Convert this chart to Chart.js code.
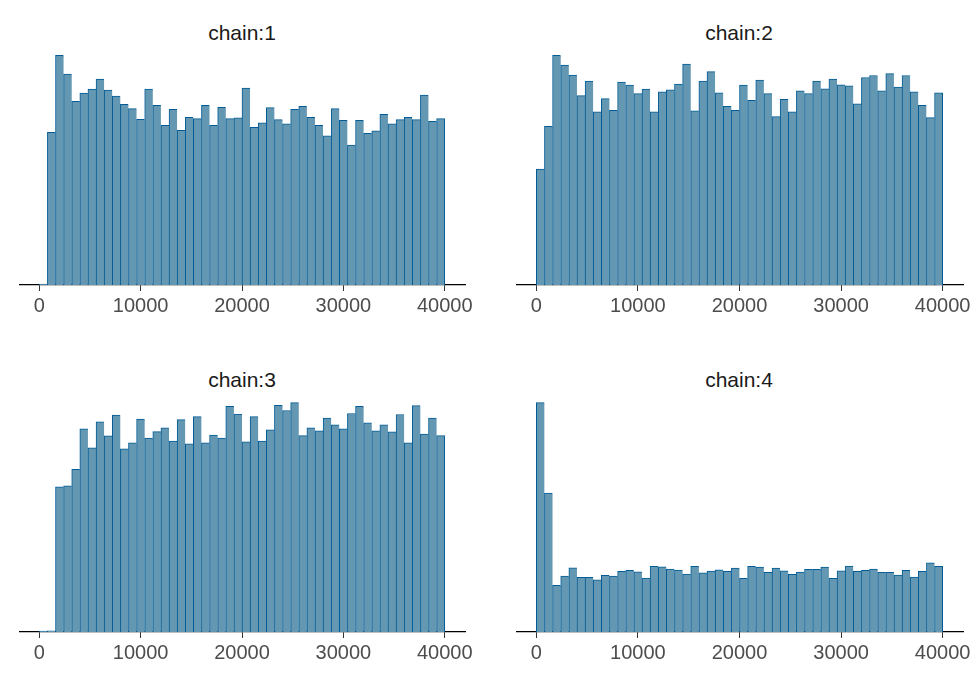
<!DOCTYPE html>
<html>
<head>
<meta charset="utf-8">
<script src="https://cdn.jsdelivr.net/npm/chart.js@4"></script>
<style>
body { margin: 0; width: 975px; height: 675px; background: #fff; position: relative; overflow: hidden; }
canvas { position: absolute; }
.title { position: absolute; width: 300px; text-align: center; font-family: 'Liberation Sans', Arial, sans-serif; font-size: 21px; line-height: 21px; color: #1a1a1a; }
</style>
</head>
<body>
<div class="title" style="left:92px; top:22px;">chain:1</div>
<div class="title" style="left:589px; top:22px;">chain:2</div>
<div class="title" style="left:92px; top:369px;">chain:3</div>
<div class="title" style="left:589px; top:369px;">chain:4</div>
<canvas id="c1" width="460" height="271" style="left:19px; top:50px;"></canvas>
<canvas id="c2" width="459" height="271" style="left:516px; top:50px;"></canvas>
<canvas id="c3" width="460" height="271" style="left:19px; top:397px;"></canvas>
<canvas id="c4" width="459" height="271" style="left:516px; top:397px;"></canvas>
<script>
// histogram bins (width 800), centres
const binCenters = [400, 1200, 2000, 2800, 3600, 4400, 5200, 6000, 6800, 7600,
  8400, 9200, 10000, 10800, 11600, 12400, 13200, 14000, 14800, 15600,
  16400, 17200, 18000, 18800, 19600, 20400, 21200, 22000, 22800, 23600,
  24400, 25200, 26000, 26800, 27600, 28400, 29200, 30000, 30800, 31600,
  32400, 33200, 34000, 34800, 35600, 36400, 37200, 38000, 38800, 39600];
const xTicks = [0, 10000, 20000, 30000, 40000];

const chain1 = [5, 760, 1143, 1050, 915, 955, 975, 1025, 970, 940, 900, 878, 825, 975, 895, 795, 875, 770, 835, 828,
  895, 795, 885, 828, 832, 980, 785, 807, 883, 823, 803, 875, 890, 835, 795, 743, 878, 820, 697, 820,
  755, 767, 850, 803, 823, 835, 823, 945, 815, 828];
const chain2 = [577, 790, 1143, 1095, 1045, 943, 1015, 862, 928, 870, 1010, 995, 953, 975, 862, 962, 972, 1000, 1100, 867,
  1015, 1062, 957, 890, 870, 995, 920, 1020, 953, 838, 925, 862, 967, 953, 1015, 977, 1025, 997, 992, 902,
  1033, 1043, 967, 1052, 985, 1043, 962, 895, 833, 957];
const chain3 = [4, 6, 723, 728, 810, 1012, 917, 1047, 977, 1080, 912, 942, 1060, 965, 998, 1017, 950, 1057, 937, 1072,
  942, 980, 965, 1123, 1085, 947, 1072, 950, 1007, 1128, 1103, 1142, 978, 1017, 1002, 1065, 1032, 1012, 1088, 1123,
  1042, 1002, 1032, 997, 1083, 942, 1127, 985, 1065, 978];
const chain4 = [1142, 692, 232, 278, 320, 272, 272, 260, 282, 278, 302, 307, 300, 268, 327, 325, 313, 308, 288, 327,
  295, 303, 310, 302, 318, 267, 327, 323, 297, 318, 305, 287, 298, 312, 312, 323, 267, 305, 328, 302,
  307, 313, 297, 297, 283, 307, 273, 302, 345, 327];

const yMax = 1170;

function makeHist(id, counts, padRight) {
  const last = counts.length - 1;
  new Chart(document.getElementById(id), {
    type: 'bar',
    data: {
      datasets: [{
        data: binCenters.map((x, i) => ({ x: x, y: counts[i] })),
        backgroundColor: '#6497b1',
        borderColor: '#005b96',
        borderWidth: ctx => ctx.dataIndex === last
          ? { top: 1, left: 1, right: 1, bottom: 0 }
          : { top: 1, left: 1, right: 0, bottom: 0 },
        borderSkipped: false,
        barPercentage: 1,
        categoryPercentage: 1
      }]
    },
    options: {
      responsive: false,
      animation: false,
      devicePixelRatio: 1,
      layout: { padding: { left: 0, right: padRight, top: 0, bottom: 0 } },
      plugins: { legend: { display: false }, tooltip: { enabled: false } },
      scales: {
        x: {
          type: 'linear',
          min: -2000,
          max: 42000,
          offset: false,
          afterBuildTicks: scale => { scale.ticks = xTicks.map(v => ({ value: v })); },
          grid: { offset: false, drawOnChartArea: false, drawTicks: true, tickLength: 6, tickColor: '#333', tickWidth: 1 },
          border: { display: true, color: '#000', width: 1.3 },
          ticks: {
            color: '#4d4d4d',
            font: { family: "'Liberation Sans', Arial, sans-serif", size: 20 },
            padding: 3,
            maxRotation: 0,
            autoSkip: false,
            callback: v => String(v)
          }
        },
        y: { display: false, min: 0, max: yMax }
      }
    }
  });
}

makeHist('c1', chain1, 14);
makeHist('c2', chain2, 12);
makeHist('c3', chain3, 14);
makeHist('c4', chain4, 12);
</script>
</body>
</html>
